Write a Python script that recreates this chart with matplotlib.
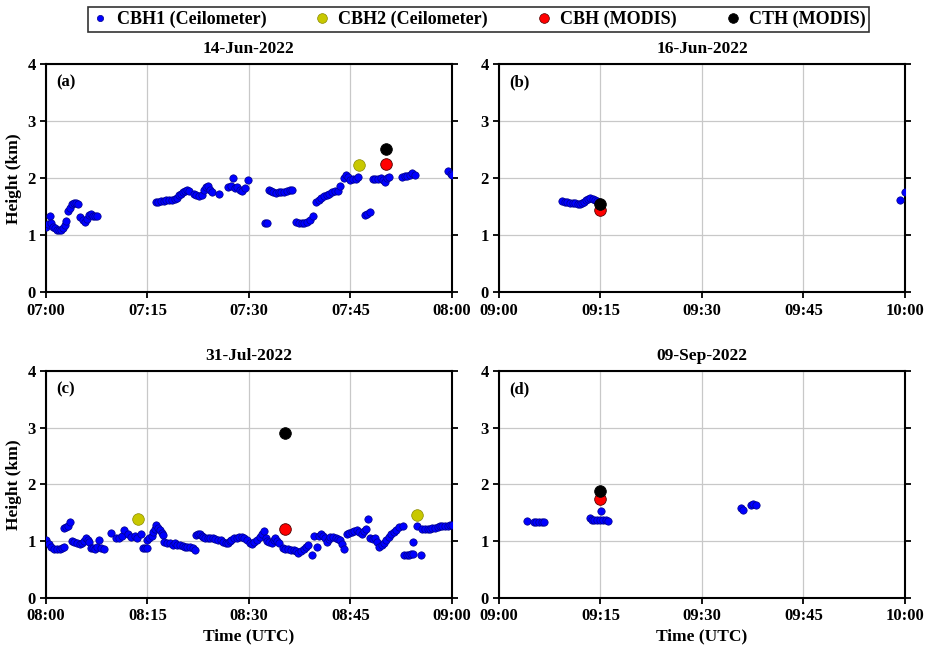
import matplotlib
matplotlib.use("Agg")
import matplotlib.pyplot as plt
from matplotlib.lines import Line2D

plt.rcParams['font.family'] = ['Liberation Serif', 'DejaVu Serif']
plt.rcParams['font.weight'] = 'bold'

# minutes after the first tick of each panel
titles = ['14-Jun-2022', '16-Jun-2022', '31-Jul-2022', '09-Sep-2022']
panel_tags = ['(a)', '(b)', '(c)', '(d)']
tick_labels = [['07:00', '07:15', '07:30', '07:45', '08:00'],
               ['09:00', '09:15', '09:30', '09:45', '10:00'],
               ['08:00', '08:15', '08:30', '08:45', '09:00'],
               ['09:00', '09:15', '09:30', '09:45', '10:00']]

# (a) 14-Jun-2022
cbh1_t_a = [0.0, 0.3, 0.6, 0.8, 1.0, 1.3, 1.6, 1.9, 2.2, 2.5, 2.8, 3.0, 3.3, 3.5, 3.8, 4.1, 4.4, 4.7,
            5.1, 5.4, 5.7, 6.0, 6.3, 6.6, 6.9, 7.2, 7.5,
            16.2, 16.6, 17.0, 17.4, 17.8, 18.2, 18.6, 19.0, 19.3, 19.6, 19.9, 20.2, 20.5, 20.8, 21.1,
            21.9, 22.2, 22.6, 23.0, 23.3, 23.7, 24.0, 24.3, 24.6, 25.6, 26.9, 27.3, 27.7, 28.0, 28.3,
            28.7, 29.0, 29.4, 29.8,
            32.3, 32.6, 32.9, 33.2, 33.6, 34.0, 34.4, 34.8, 35.2, 35.6, 36.0, 36.4,
            37.0, 37.4, 37.8, 38.2, 38.6, 39.0, 39.4,
            39.9, 40.3, 40.7, 41.1, 41.5, 41.9, 42.3, 42.7, 43.1, 43.5,
            44.0, 44.3, 44.6, 45.0, 45.4, 45.8, 46.1,
            47.1, 47.5, 47.9,
            48.3, 48.7, 49.1, 49.5, 49.8, 50.1, 50.4, 50.7,
            52.6, 53.0, 53.4, 53.8, 54.1, 54.5,
            59.4, 59.8, 60.0]
cbh1_h_a = [1.15, 1.20, 1.33, 1.22, 1.15, 1.12, 1.10, 1.10, 1.10, 1.12, 1.18, 1.25, 1.42, 1.48, 1.55, 1.56, 1.57, 1.55,
            1.32, 1.27, 1.24, 1.28, 1.35, 1.37, 1.34, 1.33, 1.34,
            1.58, 1.59, 1.60, 1.60, 1.61, 1.62, 1.62, 1.63, 1.66, 1.70, 1.72, 1.75, 1.78, 1.80, 1.78,
            1.72, 1.70, 1.68, 1.70, 1.80, 1.84, 1.86, 1.80, 1.75, 1.72, 1.85, 1.87, 2.01, 1.83, 1.85,
            1.80, 1.78, 1.82, 1.97,
            1.22, 1.22, 1.79, 1.77, 1.75, 1.74, 1.76, 1.75, 1.76, 1.78, 1.79, 1.80,
            1.24, 1.22, 1.22, 1.22, 1.24, 1.27, 1.33,
            1.59, 1.62, 1.65, 1.69, 1.71, 1.73, 1.75, 1.77, 1.78, 1.86,
            2.00, 2.05, 2.02, 1.97, 1.98, 1.99, 2.02,
            1.36, 1.38, 1.40,
            1.98, 1.98, 1.99, 2.00, 1.97, 1.94, 2.00, 2.02,
            2.02, 2.03, 2.04, 2.05, 2.09, 2.06,
            2.12, 2.08, 2.06]
cbh2_t_a = [46.2]
cbh2_h_a = [2.23]

# (b) 16-Jun-2022
cbh1_t_b = [9.3, 9.7, 10.1, 10.5, 10.9, 11.3, 11.7, 12.0, 12.3, 12.6, 12.9, 13.2, 13.5, 13.9,
            14.2, 14.5, 14.8, 15.1, 59.3, 60.0]
cbh1_h_b = [1.60, 1.59, 1.58, 1.57, 1.56, 1.56, 1.55, 1.55, 1.57, 1.59, 1.62, 1.64, 1.65, 1.63,
            1.62, 1.60, 1.58, 1.56, 1.62, 1.75]
cbh2_t_b = []
cbh2_h_b = []

# (c) 31-Jul-2022
cbh1_t_c = [0.0, 0.4, 0.8, 1.2, 1.6, 2.0, 2.4, 2.6, 2.7, 3.0, 3.3, 3.5,
            3.9, 4.2, 4.6, 5.0, 5.3, 5.6, 5.9, 6.2, 6.4, 6.6, 7.0, 7.3, 7.6, 7.9, 8.1, 8.6,
            9.6, 10.3, 10.8, 11.2, 11.6, 12.1, 12.6, 13.1, 13.5, 14.0, 14.3, 14.6, 14.9,
            15.0, 15.3, 15.6, 15.8, 16.1, 16.3, 16.6, 16.8, 17.1, 17.3, 17.5, 17.9, 18.3, 18.7,
            19.0, 19.4, 19.8, 20.2, 20.5, 20.9, 21.3, 21.7, 22.0,
            22.2, 22.5, 22.7, 23.0, 23.2, 23.5, 23.9, 24.3, 24.7, 25.0, 25.4, 25.8, 26.2, 26.6,
            26.9, 27.2, 27.4, 27.8, 28.2, 28.6, 28.9, 29.3, 29.7, 30.1, 30.4, 30.8, 31.2, 31.6,
            31.9, 32.2, 32.5, 32.7, 33.0, 33.4, 33.7, 33.9, 34.2, 34.4,
            35.0, 35.4, 35.8, 36.2, 36.6, 36.9, 37.3, 37.7, 38.1, 38.5, 38.8, 39.3, 39.6, 40.0,
            40.3, 40.6, 41.0, 41.3, 41.5, 41.8, 42.0, 42.4, 42.8, 43.2, 43.5, 43.8, 44.0, 44.5,
            44.8, 45.2, 45.5, 45.9, 46.3, 46.7, 47.0, 47.3, 47.6, 47.9, 48.3, 48.7, 49.0, 49.2,
            49.6, 49.9, 50.3, 50.7, 51.0, 51.4, 51.8, 52.2, 52.7,
            52.9, 53.3, 53.7, 54.0, 54.2, 54.3, 54.9, 55.4, 55.6, 56.0, 56.4, 56.8, 57.1, 57.5,
            57.9, 58.2, 58.6, 59.0, 59.4, 59.7, 60.0]
cbh1_h_c = [1.02, 0.95, 0.89, 0.87, 0.87, 0.87, 0.88, 0.89, 1.24, 1.25, 1.26, 1.34,
            1.00, 0.99, 0.97, 0.95, 0.97, 1.00, 1.05, 1.02, 0.99, 0.88, 0.88, 0.87, 0.89, 1.02, 0.88, 0.87,
            1.15, 1.05, 1.05, 1.10, 1.19, 1.13, 1.08, 1.10, 1.05, 1.13, 0.88, 0.88, 0.88,
            1.02, 1.06, 1.10, 1.16, 1.22, 1.28, 1.23, 1.19, 1.14, 1.11, 0.99, 0.97, 0.96, 0.94,
            0.96, 0.93, 0.93, 0.91, 0.90, 0.89, 0.90, 0.88, 0.84,
            1.11, 1.12, 1.13, 1.10, 1.08, 1.05, 1.06, 1.05, 1.06, 1.04, 1.03, 1.02, 0.99, 0.97,
            0.96, 1.00, 1.03, 1.05, 1.06, 1.07, 1.08, 1.05, 1.03, 0.96, 0.95, 0.98, 1.03, 1.08,
            1.13, 1.18, 1.05, 1.00, 0.98, 0.97, 1.02, 1.05, 1.00, 0.97,
            0.88, 0.87, 0.87, 0.85, 0.84, 0.82, 0.79, 0.82, 0.87, 0.90, 0.93, 0.75, 1.10, 0.90,
            1.10, 1.12, 1.10, 1.05, 0.99, 1.04, 1.08, 1.07, 1.05, 1.04, 1.02, 0.95, 0.87, 1.13,
            1.15, 1.16, 1.18, 1.19, 1.16, 1.13, 1.18, 1.22, 1.39, 1.05, 1.04, 1.05, 0.98, 0.90,
            0.93, 0.96, 1.02, 1.08, 1.12, 1.16, 1.20, 1.25, 1.27,
            0.76, 0.75, 0.75, 0.77, 0.78, 0.98, 1.27, 0.76, 1.22, 1.21, 1.21, 1.22, 1.23, 1.24,
            1.25, 1.26, 1.27, 1.27, 1.27, 1.28, 1.29]
cbh2_t_c = [13.6, 54.9]
cbh2_h_c = [1.39, 1.47]

# (d) 09-Sep-2022
cbh1_t_d = [4.1, 5.1, 5.5, 5.9, 6.3, 6.7,
            13.4, 13.7, 14.1, 14.5, 14.9, 15.1, 15.4, 15.8, 16.1,
            35.7, 36.0, 37.2, 37.6, 38.0]
cbh1_h_d = [1.36, 1.34, 1.33, 1.34, 1.33, 1.33,
            1.41, 1.38, 1.37, 1.37, 1.37, 1.53, 1.38, 1.37, 1.36,
            1.59, 1.55, 1.64, 1.65, 1.64]
cbh2_t_d = []
cbh2_h_d = []

# MODIS overpass time and heights per panel
modis_t = [50.3, 15.0, 35.3, 15.0]
modis_cbh = [2.25, 1.45, 1.21, 1.75]
modis_cth = [2.52, 1.55, 2.91, 1.89]

cbh1_t = [cbh1_t_a, cbh1_t_b, cbh1_t_c, cbh1_t_d]
cbh1_h = [cbh1_h_a, cbh1_h_b, cbh1_h_c, cbh1_h_d]
cbh2_t = [cbh2_t_a, cbh2_t_b, cbh2_t_c, cbh2_t_d]
cbh2_h = [cbh2_h_a, cbh2_h_b, cbh2_h_c, cbh2_h_d]

fig = plt.figure(figsize=(9.31, 6.48), dpi=100)
boxes = [(0.0494, 0.549, 0.436, 0.352),
         (0.536, 0.549, 0.436, 0.352),
         (0.0494, 0.0772, 0.436, 0.3503),
         (0.536, 0.0772, 0.436, 0.3503)]

blue = '#0000ff'
yellow = '#c8c800'

for i in range(4):
    ax = fig.add_axes(boxes[i])
    ax.scatter(cbh1_t[i], cbh1_h[i], s=28, color=blue, edgecolor='#00008b', linewidth=0.5, zorder=3)
    if cbh2_t[i]:
        ax.scatter(cbh2_t[i], cbh2_h[i], s=70, color=yellow, edgecolor='#8a8a00', linewidth=0.5, zorder=4)
    ax.scatter([modis_t[i]], [modis_cbh[i]], s=70, color='#ff0000', edgecolor='#500000', linewidth=0.6, zorder=5)
    ax.scatter([modis_t[i]], [modis_cth[i]], s=70, color='black', edgecolor='black', linewidth=0.6, zorder=6)

    ax.set_xlim(0, 60)
    ax.set_ylim(0, 4)
    ax.set_xticks([0, 15, 30, 45, 60])
    ax.set_xticklabels(tick_labels[i])
    ax.set_yticks([0, 1, 2, 3, 4])
    ax.grid(True, color='#c8c8c8', linewidth=0.9)
    ax.set_axisbelow(True)
    for sp in ax.spines.values():
        sp.set_linewidth(1.5)
    ax.tick_params(axis='both', direction='out', length=4, width=1.3, labelsize=12,
                   right=True, top=False)
    for lab in ax.get_xticklabels() + ax.get_yticklabels():
        lab.set_fontweight('bold')
    ax.set_title(titles[i], fontsize=12.5, fontweight='bold', pad=8)
    ax.text(0.025, 0.955, panel_tags[i], transform=ax.transAxes, fontsize=12,
            fontweight='bold', va='top', ha='left')
    if i % 2 == 0:
        ax.set_ylabel('Height (km)', fontsize=12.5, fontweight='bold', labelpad=4)
    if i >= 2:
        ax.set_xlabel('Time (UTC)', fontsize=12.5, fontweight='bold', labelpad=3)

handles = [
    Line2D([], [], marker='o', linestyle='none', markersize=4.5, markerfacecolor=blue,
           markeredgecolor='#00008b', markeredgewidth=0.5),
    Line2D([], [], marker='o', linestyle='none', markersize=7, markerfacecolor=yellow,
           markeredgecolor='#8a8a00', markeredgewidth=0.5),
    Line2D([], [], marker='o', linestyle='none', markersize=7, markerfacecolor='#ff0000',
           markeredgecolor='#500000', markeredgewidth=0.5),
    Line2D([], [], marker='o', linestyle='none', markersize=7, markerfacecolor='black',
           markeredgecolor='black', markeredgewidth=0.5),
]
labels = ['CBH1 (Ceilometer)', 'CBH2 (Ceilometer)', 'CBH (MODIS)', 'CTH (MODIS)']
leg = fig.legend(handles, labels, loc='upper center', bbox_to_anchor=(0.514, 1.0), ncol=4,
                 frameon=True, fancybox=False, edgecolor='black', columnspacing=2.6,
                 handlelength=1.0, handletextpad=0.4, borderpad=0.2, borderaxespad=0.4,
                 prop={'size': 13, 'weight': 'bold'})
leg.get_frame().set_linewidth(1.2)

fig.savefig('out.png', dpi=100)
